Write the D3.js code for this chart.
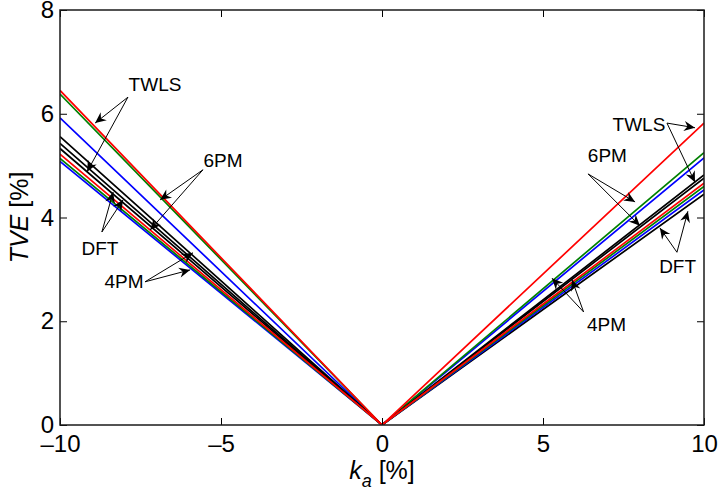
<!DOCTYPE html>
<html>
<head>
<meta charset="utf-8">
<script src="https://cdn.jsdelivr.net/npm/d3@7"></script>
<style>
  body { margin: 0; background: #fff; }
  text { font-family: "Liberation Sans", Arial, sans-serif; fill: #000; }
</style>
</head>
<body>
<svg id="chart" width="720" height="500"></svg>
<script>
// Data
const xTicks = [-10, -5, 0, 5, 10]
const yTicks = [0, 2, 4, 6, 8]
const kaPoints = [-10, 0, 10]
const seriesColors = ['#0000ff', '#008000', '#000000', '#000000', '#000000', '#0000ff', '#008000', '#ff0000', '#ff0000']
const tveLeft  = [5.92, 6.38, 5.56, 5.43, 5.33, 5.08, 5.14, 5.22, 6.45]
const tveRight = [5.15, 5.25, 4.82, 4.76, 4.45, 4.53, 4.60, 4.66, 5.82]

// Annotations (data units): label, text position, arrow start, arrow tips
const annLabels = ['TWLS', '6PM', 'DFT', '4PM', 'TWLS', '6PM', 'DFT', '4PM']
const annText = [[-7.05, 6.57], [-4.94, 5.09], [-8.76, 3.41], [-8.01, 2.76],
                 [7.98, 5.80], [7.0, 5.20], [9.18, 3.05], [6.97, 1.93]]
const annStart = [[-7.89, 6.32], [-5.56, 4.92], [-8.70, 3.72], [-7.36, 2.76],
                  [8.85, 5.82], [6.40, 4.84], [9.16, 3.33], [6.26, 2.18]]
const annTips = [[[-8.91, 5.82], [-9.16, 4.88]],
                 [[-6.89, 4.34], [-7.20, 3.76]],
                 [[-8.35, 4.49], [-8.04, 4.34]],
                 [[-5.87, 3.32], [-5.96, 2.99]],
                 [[9.72, 5.73], [9.72, 4.68]],
                 [[7.86, 4.30], [8.01, 3.84]],
                 [[8.63, 3.80], [9.50, 4.12]],
                 [[5.28, 2.83], [5.90, 2.80]]]

const margin = {top: 10, right: 16, bottom: 75, left: 60}
const width = 720 - margin.left - margin.right
const height = 500 - margin.top - margin.bottom

const svg = d3.select('#chart')
const g = svg.append('g').attr('transform', 'translate(' + margin.left + ',' + margin.top + ')')

const x = d3.scaleLinear().domain([-10, 10]).range([0, width])
const y = d3.scaleLinear().domain([0, 8]).range([height, 0])

const defs = svg.append('defs')
defs.append('clipPath').attr('id', 'clip')
    .append('rect').attr('width', width).attr('height', height)
defs.append('marker')
    .attr('id', 'head')
    .attr('markerUnits', 'userSpaceOnUse')
    .attr('markerWidth', 14).attr('markerHeight', 14)
    .attr('viewBox', '-12 -7 14 14')
    .attr('refX', 0).attr('refY', 0)
    .attr('orient', 'auto')
    .append('path')
    .attr('d', 'M0,0 L-11,-5 L-7.5,0 L-11,5 Z')
    .attr('fill', '#000')

// Lines
const line = d3.line().x(d => x(d[0])).y(d => y(d[1]))
const series = tveLeft.map((v, i) => [[kaPoints[0], v], [kaPoints[1], 0], [kaPoints[2], tveRight[i]]])

g.append('g').attr('clip-path', 'url(#clip)')
    .selectAll('path.series')
    .data(series)
    .enter()
    .append('path')
    .classed('series', true)
    .attr('d', line)
    .attr('fill', 'none')
    .attr('stroke', (_, i) => seriesColors[i])
    .attr('stroke-width', 1.7)

// Axes with inside ticks on all four sides
const tickLen = 7
const axisBottom = d3.axisBottom(x).tickValues(xTicks).tickSize(-tickLen).tickPadding(10)
    .tickFormat(d => d < 0 ? '\u2013' + Math.abs(d) : d)
const axisTop = d3.axisTop(x).tickValues(xTicks).tickSize(-tickLen).tickFormat('')
const axisLeft = d3.axisLeft(y).tickValues(yTicks).tickSize(-tickLen).tickPadding(6)
const axisRight = d3.axisRight(y).tickValues(yTicks).tickSize(-tickLen).tickFormat('')

function styleAxis(sel) {
    sel.select('.domain').remove()
    sel.selectAll('line').attr('stroke', '#000').attr('stroke-width', 1)
    sel.selectAll('text').style('font-size', '24px').attr('fill', '#000')
}

g.append('g').attr('transform', 'translate(0,' + height + ')').call(axisBottom).call(styleAxis)
g.append('g').call(axisTop).call(styleAxis)
g.append('g').call(axisLeft).call(styleAxis)
g.append('g').attr('transform', 'translate(' + width + ',0)').call(axisRight).call(styleAxis)

g.append('rect')
    .attr('width', width).attr('height', height)
    .attr('fill', 'none').attr('stroke', '#1a1a1a').attr('stroke-width', 1.5)

// Axis labels
const xl = g.append('text')
    .attr('x', width / 2).attr('y', height + 54)
    .attr('text-anchor', 'middle')
    .style('font-size', '25px')
xl.append('tspan').style('font-style', 'italic').text('k')
xl.append('tspan').style('font-style', 'italic').style('font-size', '18px').attr('dy', 8).text('a')
xl.append('tspan').attr('dy', -8).text(' [%]')

const yl = g.append('text')
    .attr('transform', 'translate(' + (-32) + ',' + (height / 2) + ') rotate(-90)')
    .attr('text-anchor', 'middle')
    .style('font-size', '25px')
yl.append('tspan').style('font-style', 'italic').text('TVE')
yl.append('tspan').text(' [%]')

// Annotations
const ann = g.append('g')
annLabels.forEach(function(lab, i) {
    annTips[i].forEach(function(tip) {
        ann.append('line')
            .attr('x1', x(annStart[i][0])).attr('y1', y(annStart[i][1]))
            .attr('x2', x(tip[0])).attr('y2', y(tip[1]))
            .attr('stroke', '#000').attr('stroke-width', 1)
            .attr('marker-end', 'url(#head)')
    })
    ann.append('text')
        .attr('x', x(annText[i][0])).attr('y', y(annText[i][1]))
        .attr('text-anchor', 'middle')
        .attr('dominant-baseline', 'central')
        .style('font-size', '19px')
        .text(lab)
})
</script>
</body>
</html>
